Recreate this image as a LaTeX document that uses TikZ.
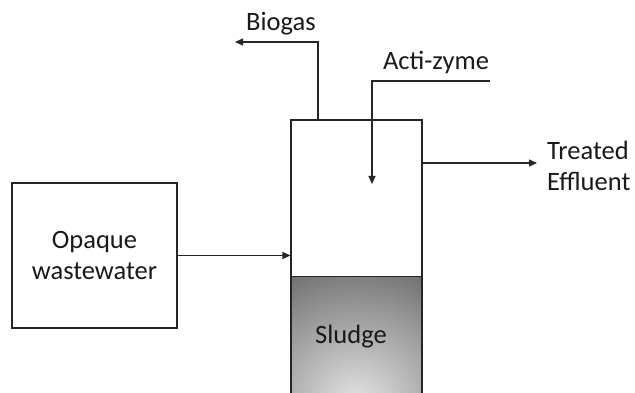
\documentclass[tikz,border=0pt]{standalone}
\usepackage{fontspec}
\setmainfont{Carlito}
\usetikzlibrary{arrows.meta}
\begin{document}
\begin{tikzpicture}[x=1pt,y=-1pt,
  line/.style={draw=black!85,line width=1.1pt},
  arr/.style={line,-{Triangle[length=8pt,width=7pt]}},
  lbl/.style={font=\fontsize{26.5}{31}\selectfont,text=black!90,inner sep=0pt},
  boxstyle/.style={line,rectangle,inner sep=0pt}]
\useasboundingbox (0,0) rectangle (635,393);
% sludge shading
\begin{scope}
  \clip (291,277) rectangle (422,396);
  \shade[inner color=black!10,outer color=black!62] (356.5,405) circle (165);
\end{scope}
\node[boxstyle,minimum width=165pt,minimum height=145pt] (src) at (94.5,255.5) {};
\node[lbl,align=center] (srctxt) at (src.center) {Opaque\\wastewater};
\node[boxstyle,minimum width=131pt,minimum height=276pt] (tank) at (356.5,258) {};
\node[inner sep=0pt,minimum width=131pt,minimum height=119pt] (sludge) at (356.5,336.5) {};
\draw[line] (sludge.north west) -- (sludge.north east);
\node[lbl] (sludgetxt) at (351,337) {Sludge};
% arrows
\draw[arr] (src.east) -- (src.east -| tank.west);
\coordinate (bgturn) at (318,42);
\coordinate (bgend) at (235,42);
\draw[arr] (bgturn |- tank.north) -- (bgturn) -- (bgend);
\node[lbl] (biogas) at (281,24) {Biogas};
\coordinate (azstart) at (490,81);
\coordinate (azturn) at (372,81);
\coordinate (aztip) at (372,184);
\draw[arr] (azstart) -- (azturn) -- (aztip);
\node[lbl] (acti) at (436,62) {Acti-zyme};
\coordinate (eftip) at (537,163);
\draw[arr] (eftip -| tank.east) -- (eftip);
\node[lbl,align=left,anchor=west] (eff) at (547,166) {Treated\\Effluent};
\end{tikzpicture}
\end{document}
